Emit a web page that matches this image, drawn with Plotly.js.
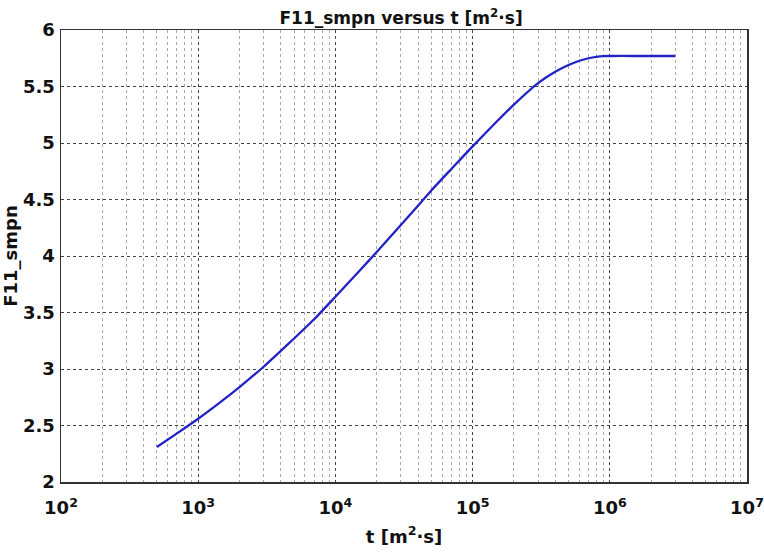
<!DOCTYPE html>
<html>
<head>
<meta charset="utf-8">
<script src="https://cdn.plot.ly/plotly-3.0.1.min.js"></script>
<style>html,body{margin:0;padding:0;background:#fff;}#chart{width:764px;height:553px;}</style>
</head>
<body>
<div id="chart"></div>
<script>
const t = [500, 700, 1000, 1500, 2000, 3000, 4000, 5000, 7000, 1e4, 1.5e4, 2e4, 3e4, 4e4, 5e4, 7e4, 1e5, 1.5e5, 2e5, 3e5, 4e5, 5e5, 6e5, 7e5, 8e5, 9e5, 1e6, 1.5e6, 2e6, 3e6];
const f11 = [2.31, 2.43, 2.56, 2.72, 2.84, 3.02, 3.16, 3.27, 3.44, 3.64, 3.87, 4.035, 4.275, 4.445, 4.58, 4.77, 4.97, 5.19, 5.34, 5.53, 5.63, 5.69, 5.728, 5.75, 5.762, 5.768, 5.77, 5.77, 5.77, 5.77];
const xTickVals = [1e2, 1e3, 1e4, 1e5, 1e6, 1e7];
const xTickText = ['10<sup>2</sup>', '10<sup>3</sup>', '10<sup>4</sup>', '10<sup>5</sup>', '10<sup>6</sup>', '10<sup>7</sup>'];
const yTickVals = [2, 2.5, 3, 3.5, 4, 4.5, 5, 5.5, 6];
const yTickText = ['2', '2.5', '3', '3.5', '4', '4.5', '5', '5.5', '6'];

const font = 'DejaVu Sans, Verdana, sans-serif';
const data = [{
  x: t, y: f11, type: 'scatter', mode: 'lines',
  line: {color: '#2222c8', width: 2.3, shape: 'spline', smoothing: 0.5}, hoverinfo: 'skip'
}];
const layout = {
  width: 764, height: 553,
  margin: {l: 61, r: 17, t: 30, b: 71},
  paper_bgcolor: '#fff', plot_bgcolor: '#fff',
  showlegend: false,
  title: {text: '<b>F11_smpn versus t [m<sup>2</sup>·s]</b>', font: {family: font, size: 17, color: '#111'}, x: 0.525, xanchor: 'center', y: 0.968, yanchor: 'middle'},
  xaxis: {
    type: 'log', range: [2, 7],
    tickvals: xTickVals, ticktext: xTickText,
    tickfont: {family: font, size: 18, color: '#111', weight: 'bold'},
    ticks: '', ticklabelstandoff: 9,
    showline: true, linecolor: '#333', linewidth: 1.5, mirror: true,
    showgrid: true, gridcolor: '#444', griddash: 'dot', gridwidth: 1,
    minor: {dtick: 'D1', showgrid: true, gridcolor: '#aaa', griddash: 'dot', gridwidth: 1, ticks: ''},
    zeroline: false,
    title: {text: '<b>t [m<sup>2</sup>·s]</b>', font: {family: font, size: 18, color: '#111'}, standoff: 13}
  },
  yaxis: {
    range: [2, 6], tickvals: yTickVals, ticktext: yTickText,
    tickfont: {family: font, size: 18, color: '#111', weight: 'bold'},
    ticks: '', ticklabelstandoff: 1,
    showline: true, linecolor: '#333', linewidth: 1.5, mirror: true,
    showgrid: true, gridcolor: '#444', griddash: 'dot', gridwidth: 1,
    zeroline: false,
    title: {text: '<b>F11_smpn</b>', font: {family: font, size: 18, color: '#111'}, standoff: 0}
  }
};
Plotly.newPlot('chart', data, layout, {displayModeBar: false, staticPlot: true});
</script>
</body>
</html>
